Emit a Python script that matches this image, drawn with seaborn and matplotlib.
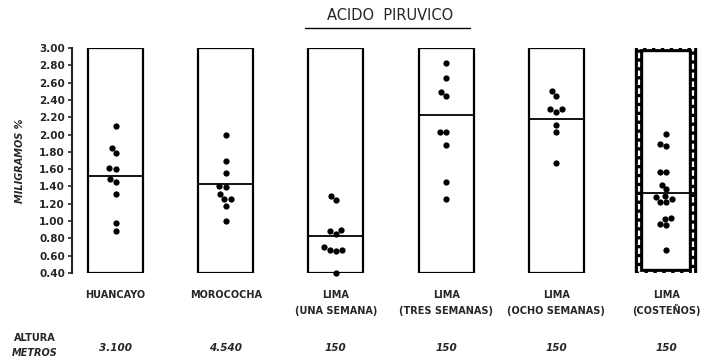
import numpy as np
import pandas as pd
import matplotlib.pyplot as plt
import seaborn as sns

# grupos y altura
categories = ["HUANCAYO", "MOROCOCHA", "LIMA\n(UNA SEMANA)", "LIMA\n(TRES SEMANAS)",
              "LIMA\n(OCHO SEMANAS)", "LIMA\n(COSTEÑOS)"]
altura = ["3.100", "4.540", "150", "150", "150", "150"]

# valores individuales (mg %)
huancayo = [2.10, 1.85, 1.79, 1.61, 1.60, 1.49, 1.45, 1.31, 0.98, 0.89]
morococha = [2.00, 1.69, 1.55, 1.40, 1.39, 1.31, 1.26, 1.25, 1.18, 1.00]
lima_1 = [1.29, 1.24, 0.90, 0.88, 0.85, 0.70, 0.67, 0.67, 0.65, 0.40]
lima_3 = [2.83, 2.65, 2.49, 2.44, 2.03, 2.03, 1.88, 1.45, 1.26]
lima_8 = [2.50, 2.45, 2.29, 2.29, 2.26, 2.11, 2.03, 1.67]
costenos = [2.01, 1.89, 1.87, 1.57, 1.57, 1.42, 1.37, 1.29, 1.28, 1.26, 1.22, 1.22,
            1.03, 1.02, 0.97, 0.95, 0.67]

# promedios (linea horizontal de cada caja)
means = [1.52, 1.43, 0.83, 2.23, 2.18, 1.32]

y_ticks = [0.40, 0.60, 0.80, 1.00, 1.20, 1.40, 1.60, 1.80, 2.00, 2.20, 2.40, 2.60, 2.80, 3.00]

groups = [huancayo, morococha, lima_1, lima_3, lima_8, costenos]
df = pd.DataFrame({
    "grupo": [categories[i] for i, g in enumerate(groups) for _ in g],
    "valor": [v for g in groups for v in g],
})

sns.set_style("ticks")
plt.rcParams['font.family'] = ['DejaVu Sans']

fig = plt.figure(figsize=(7.09, 3.62), dpi=100)
ax = fig.add_axes([72 / 709, 89 / 362, 638 / 709, 225 / 362])

lo, hi = y_ticks[0], y_ticks[-1]
pos = np.arange(len(categories))

# cajas
ax.bar(pos[:-1], hi - lo, bottom=lo, width=0.5, fill=False, edgecolor='black',
       linewidth=1.6, zorder=1)
# caja de costeños con borde grueso punteado
ax.bar(pos[-1:], hi - lo, bottom=lo, width=0.49, fill=False, edgecolor='black',
       linewidth=6, zorder=1)
ax.bar(pos[-1:], hi - lo, bottom=lo, width=0.49, fill=False, edgecolor='white',
       linewidth=1.6, linestyle=(0, (2.5, 1.5)), zorder=1.5)

# promedios
ax.hlines(means, pos - 0.25, pos + 0.25, color='black', linewidth=1.3, zorder=2)

sns.swarmplot(data=df, x="grupo", y="valor", order=categories, color='black',
              size=4.5, ax=ax, zorder=3, clip_on=False)

ax.set_xlim(-0.395, 5.395)
ax.set_ylim(lo, hi)
ax.set_yticks(y_ticks)
ax.set_yticklabels([f"{t:.2f}" for t in y_ticks], fontsize=7.5, fontweight='bold')
ax.set_xticks(pos)
ax.set_xticklabels(categories, fontsize=7, fontweight='bold', linespacing=1.8)
ax.get_xticklabels()[-1].set_linespacing(1.45)
ax.tick_params(axis='x', length=0, pad=12)
ax.tick_params(axis='y', length=3, width=1.2, pad=2)
ax.set_xlabel("")
ax.set_ylabel("MILIGRAMOS %", fontsize=7, fontweight='bold', fontstyle='italic', labelpad=10)
sns.despine(ax=ax, top=True, right=True, bottom=True)
ax.spines['left'].set_linewidth(1.5)

# titulo subrayado
fig.text(390 / 709, 1 - 16 / 362, "ACIDO  PIRUVICO", ha='center', va='center',
         fontsize=10.5)
fig.add_artist(plt.Line2D([305 / 709, 470 / 709], [1 - 28 / 362, 1 - 28 / 362],
                          color='black', linewidth=1))

# fila de altura
trans = ax.get_xaxis_transform()
for i, a in enumerate(altura):
    ax.text(i, -0.335, a, transform=trans, ha='center', va='center', fontsize=7.5,
            fontweight='bold', fontstyle='italic')
fig.text(35 / 709, 1 - 338 / 362, "ALTURA", ha='center', va='center', fontsize=7,
         fontweight='bold')
fig.text(35 / 709, 1 - 353 / 362, "METROS", ha='center', va='center', fontsize=7,
         fontweight='bold', fontstyle='italic')

fig.savefig("out.png", dpi=100)
